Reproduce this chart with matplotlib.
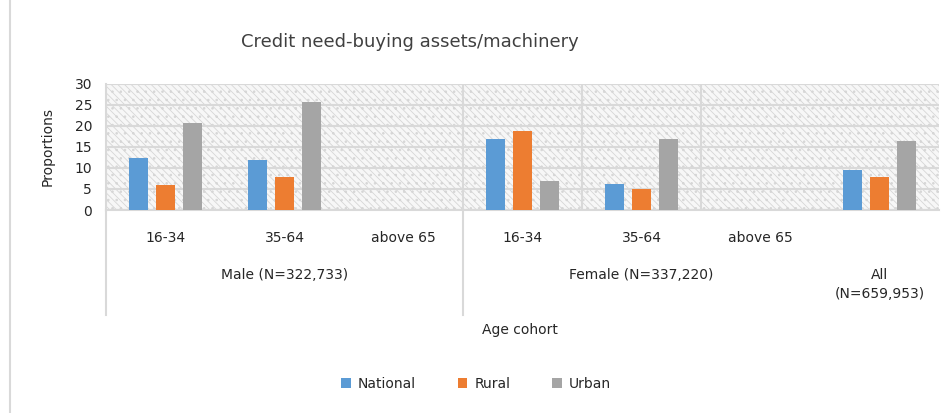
import numpy as np
import matplotlib
matplotlib.use('Agg')
import matplotlib.pyplot as plt
from matplotlib.patches import Rectangle
from matplotlib.lines import Line2D

# values (above 65 has no bars)
ages = ['16-34', '35-64', 'above 65', '16-34', '35-64', 'above 65', '']
groups = ['Male (N=322,733)', 'Female (N=337,220)', 'All\n(N=659,953)']
group_pos = [1, 4, 6]
national = [12.4, 11.9, np.nan, 16.9, 6.3, np.nan, 9.6]
rural = [6.0, 7.9, np.nan, 18.7, 5.1, np.nan, 7.8]
urban = [20.6, 25.6, np.nan, 6.8, 16.9, np.nan, 16.4]
series = ['National', 'Rural', 'Urban']
colors = ['#5B9BD5', '#ED7D31', '#A5A5A5']

plt.rcParams['font.family'] = 'DejaVu Sans'
plt.rcParams['hatch.linewidth'] = 0.6

fig = plt.figure(figsize=(9.47, 4.13), dpi=100)
ax = fig.add_axes([106 / 947, 1 - 210 / 413, 833 / 947, 126 / 413])

x = np.arange(len(ages))
# hatched plot area background
ax.add_patch(Rectangle((0, 0), 1, 1, transform=ax.transAxes, facecolor='#f7f7f7',
                       edgecolor='#d6d6d6', hatch='\\\\\\\\\\..', linewidth=0, zorder=0))

off = 0.227
w = 0.16
for i, (vals, c) in enumerate(zip([national, rural, urban], colors)):
    ax.bar(x + (i - 1) * off, vals, width=w, color=c, zorder=3, label=series[i])

ax.set_xlim(-0.5, 6.5)
ax.set_ylim(0, 30)
ax.set_yticks(range(0, 31, 5))
ax.yaxis.grid(True, color='#d9d9d9', linewidth=1.5, zorder=1)
ax.set_axisbelow(True)
for xv in [2.5, 3.5, 4.5]:
    ax.axvline(xv, color='#d9d9d9', linewidth=1.5, zorder=1)
for s in ['top', 'right']:
    ax.spines[s].set_visible(False)
for s in ['left', 'bottom']:
    ax.spines[s].set_color('#d9d9d9')
    ax.spines[s].set_linewidth(1.5)
ax.tick_params(axis='y', length=0, labelsize=10, colors='#262626', pad=10)
ax.set_xticks([])
ax.set_ylabel('Proportions', fontsize=10, color='#262626', labelpad=14)

# multi-level category labels
tr = ax.get_xaxis_transform()
for xi, lab in zip(x, ages):
    ax.text(xi, -0.222, lab, transform=tr, ha='center', va='center', fontsize=10, color='#262626')
for gx, g in zip(group_pos, groups):
    ax.text(gx, -0.46, g, transform=tr, ha='center', va='top', fontsize=10, color='#262626',
            linespacing=1.5)
for xv in [-0.5, 2.5]:
    ax.plot([xv, xv], [0, -0.83], transform=tr, color='#d9d9d9', linewidth=1.5, clip_on=False)

fig.text(520 / 947, 1 - 330 / 413, 'Age cohort', ha='center', va='center', fontsize=10, color='#262626')
fig.text(410 / 947, 1 - 42 / 413, 'Credit need-buying assets/machinery', ha='center', va='center',
         fontsize=13, color='#404040')

fig.add_artist(Line2D([10 / 947, 10 / 947], [0, 1], color='#d9d9d9', linewidth=1.5))

fig.legend(loc='center', bbox_to_anchor=(476 / 947, 1 - 384 / 413), ncol=3, frameon=False,
           fontsize=10, handlelength=0.7, handleheight=0.7, columnspacing=3.0, handletextpad=0.5,
           labelcolor='#262626')

plt.savefig('out.png', dpi=100)
